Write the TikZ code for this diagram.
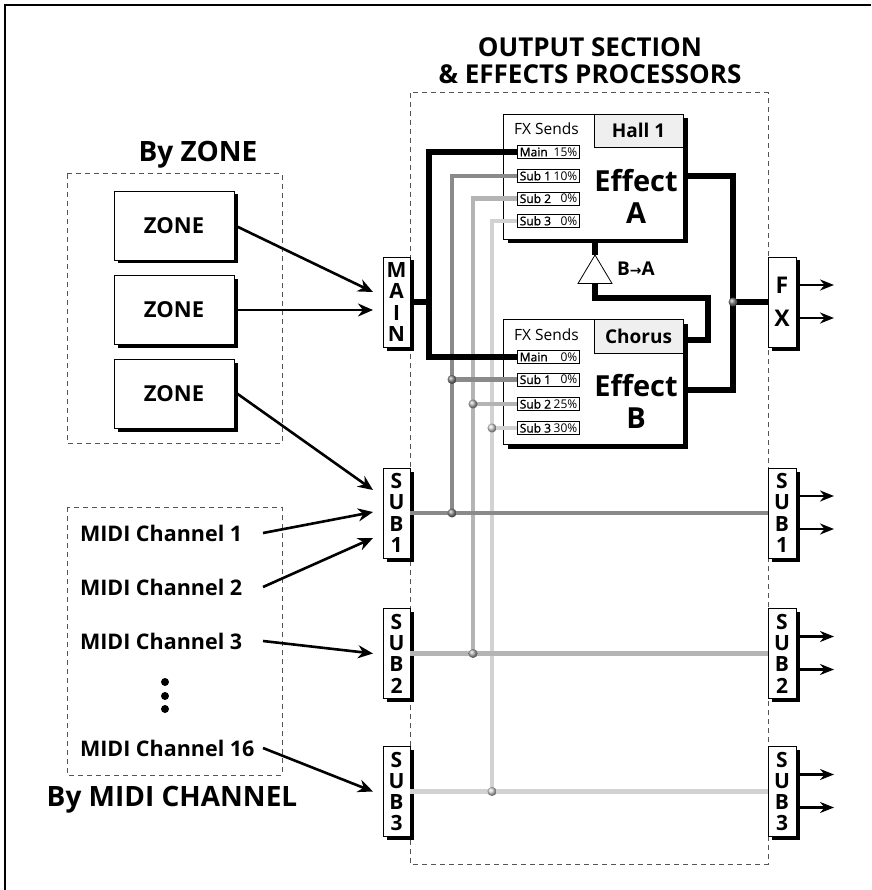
\documentclass[tikz,border=0pt]{standalone}
\usepackage{fontspec}
\setmainfont{Open Sans}
\newfontfamily\symfont{DejaVu Sans}
\newfontfamily\semib[FakeBold=1.3]{Open Sans}
\usetikzlibrary{arrows.meta,shadows,calc}
\definecolor{cA}{HTML}{8A8A8A}
\definecolor{cB}{HTML}{B4B4B4}
\definecolor{cC}{HTML}{D2D2D2}
\definecolor{dashgray}{HTML}{555555}
\definecolor{boxfill}{HTML}{EFEFEF}
\begin{document}
\begin{tikzpicture}[x=1pt,y=-1pt,
  every node/.style={inner sep=0pt,outer sep=0pt},
  shbox/.style={draw=black,line width=0.9pt,fill=white,
    drop shadow={shadow xshift=3.5pt,shadow yshift=-3.5pt,opacity=1,fill=black}},
  busbox/.style={shbox,minimum width=27pt,minimum height=90pt,align=center,
    font=\fontsize{21}{21.3}\selectfont\bfseries},
  fxbox/.style={shbox,minimum width=28pt,minimum height=90pt,align=center,
    font=\fontsize{23}{33}\selectfont\bfseries},
  zonebox/.style={shbox,minimum width=120pt,minimum height=69pt,
    font=\fontsize{22}{24}\selectfont\bfseries},
  effbox/.style={draw=black,line width=0.9pt,fill=white,minimum width=180pt,minimum height=125pt,
    drop shadow={shadow xshift=4.5pt,shadow yshift=-4.5pt,opacity=1,fill=black}},
  namebox/.style={draw=black,line width=0.9pt,fill=boxfill,minimum width=89pt,minimum height=34pt,
    font=\fontsize{19}{20}\selectfont\bfseries},
  sendbox/.style={draw=black,line width=0.8pt,fill=white,minimum width=62pt,minimum height=13pt},
  sendname/.style={font=\fontsize{12}{13}\selectfont\semib,anchor=west},
  sendval/.style={font=\fontsize{12}{13}\selectfont,anchor=east},
  fxsends/.style={font=\fontsize{15.5}{16}\selectfont},
  efftext/.style={font=\fontsize{29}{32}\selectfont\bfseries,align=center},
  dashbox/.style={draw=dashgray,line width=1pt,dash pattern=on 5pt off 4pt},
  arr/.style={line width=2.6pt,-{Stealth[length=15pt,width=13pt]}},
  outarr/.style={line width=2.2pt,-{Stealth[length=14pt,width=11pt]}},
  mainl/.style={line width=6pt,black},
  lA/.style={line width=4.5pt,cA},
  lB/.style={line width=4.5pt,cB},
  lC/.style={line width=4.5pt,cC},
  midi/.style={font=\fontsize{21.5}{24}\selectfont\bfseries,anchor=west},
  bigtitle/.style={font=\fontsize{28}{30}\selectfont\bfseries}
]
\useasboundingbox (0,0) rectangle (871,890);
% frame
\draw[line width=1.2pt] (871,5) -- (5,5) -- (5,890);

% dashed groups
\draw[dashbox] (67,174) rectangle (282,443);
\draw[dashbox] (67,507) rectangle (282,775);
\draw[dashbox] (410,93) rectangle (768,864);

% titles
\node[font=\fontsize{26}{27}\selectfont\bfseries,align=center] (title) at (590,61)
  {OUTPUT SECTION\\\& EFFECTS PROCESSORS};
\node[bigtitle] (byzone) at (198,155) {By ZONE};
\node[bigtitle] (bymidi) at (172,800) {By MIDI CHANNEL};

% zones
\node[zonebox] (z1) at (174,225.5) {ZONE};
\node[zonebox] (z2) at (174,309.5) {ZONE};
\node[zonebox] (z3) at (174,393.5) {ZONE};

% midi channels
\node[midi] (m1) at (80,533) {MIDI Channel 1};
\node[midi] (m2) at (80,587) {MIDI Channel 2};
\node[midi] (m3) at (80,641) {MIDI Channel 3};
\node[midi] (m16) at (80,748) {MIDI Channel 16};
\fill (165,682) circle (4pt) (165,696) circle (4pt) (165,709) circle (4pt);

% effect boxes
\node[effbox] (effA) at (593,176.5) {};
\node[effbox] (effB) at (593,381.5) {};
\node[namebox,minimum height=33pt] (hall) at (638.5,130.5) {Hall 1};
\node[namebox] (chorus) at (638.5,336.5) {Chorus};
\node[fxsends] (fxsA) at (546.5,129) {FX Sends};
\node[fxsends] (fxsB) at (546.5,335) {FX Sends};
\node[efftext] (etA) at (636,196) {Effect\\A};
\node[efftext] (etB) at (636,401.5) {Effect\\B};

% send labels A
\node[sendbox] (aM) at (548.3,152) {};
\node[sendbox] (a1) at (548.3,175.8) {};
\node[sendbox] (a2) at (548.3,198.5) {};
\node[sendbox] (a3) at (548.3,220.8) {};
\node[sendname] (aMn) at ($(aM.west)+(2.5,0)$) {Main};
\node[sendval]  (aMv) at ($(aM.east)+(-2,0)$) {15\%};
\node[sendname] (a1n) at ($(a1.west)+(2.5,0)$) {Sub 1};
\node[sendval]  (a1v) at ($(a1.east)+(-2,0)$) {10\%};
\node[sendname] (a2n) at ($(a2.west)+(2.5,0)$) {Sub 2};
\node[sendval]  (a2v) at ($(a2.east)+(-2,0)$) {0\%};
\node[sendname] (a3n) at ($(a3.west)+(2.5,0)$) {Sub 3};
\node[sendval]  (a3v) at ($(a3.east)+(-2,0)$) {0\%};
% send labels B
\node[sendbox] (bM) at (548.3,357) {};
\node[sendbox] (b1) at (548.3,379.5) {};
\node[sendbox] (b2) at (548.3,404) {};
\node[sendbox] (b3) at (548.3,428) {};
\node[sendname] (bMn) at ($(bM.west)+(2.5,0)$) {Main};
\node[sendval]  (bMv) at ($(bM.east)+(-2,0)$) {0\%};
\node[sendname] (b1n) at ($(b1.west)+(2.5,0)$) {Sub 1};
\node[sendval]  (b1v) at ($(b1.east)+(-2,0)$) {0\%};
\node[sendname] (b2n) at ($(b2.west)+(2.5,0)$) {Sub 2};
\node[sendval]  (b2v) at ($(b2.east)+(-2,0)$) {25\%};
\node[sendname] (b3n) at ($(b3.west)+(2.5,0)$) {Sub 3};
\node[sendval]  (b3v) at ($(b3.east)+(-2,0)$) {30\%};

% bus boxes
\node[busbox] (mainL) at (396.5,302) {M\\A\\I\\N};
\node[busbox] (sub1L) at (396.5,513) {S\\U\\B\\1};
\node[busbox] (sub2L) at (396.5,653.5) {S\\U\\B\\2};
\node[busbox] (sub3L) at (396.5,791.5) {S\\U\\B\\3};
\node[fxbox]  (fxR)   at (782,302) {F\\X};
\node[busbox,minimum width=28pt] (sub1R) at (782,513) {S\\U\\B\\1};
\node[busbox,minimum width=28pt] (sub2R) at (782,653.5) {S\\U\\B\\2};
\node[busbox,minimum width=28pt] (sub3R) at (782,791.5) {S\\U\\B\\3};

% routing coordinates
\coordinate (jm) at (429,302);
\coordinate (x1) at (452,0);
\coordinate (x2) at (473,0);
\coordinate (x3) at (492,0);
\coordinate (jfx) at (733,302);
\coordinate (bout) at (683,390);
\coordinate (tapex) at (595,255);
\coordinate (tbase) at (595,283);
\coordinate (lp1) at (708,297.5);
\coordinate (lp2) at (683,340);

% sub 3 routing
\draw[lC] (a3.west) -| (x3 |- sub3L.east);
\draw[lC] (x3 |- b3.west) -- (b3.west);
\draw[lC] (sub3L.east) -- (sub3R.west);
% sub 2 routing
\draw[lB] (a2.west) -| (x2 |- sub2L.east);
\draw[lB] (x2 |- b2.west) -- (b2.west);
\draw[lB] (sub2L.east) -- (sub2R.west);
% sub 1 routing
\draw[lA] (a1.west) -| (x1 |- sub1L.east);
\draw[lA] (x1 |- b1.west) -- (b1.west);
\draw[lA] (sub1L.east) -- (sub1R.west);
% main routing
\draw[mainl] (mainL.east) -- (jm);
\draw[mainl] (aM.west) -| (jm) |- (bM.west);
% effect outputs
\draw[mainl] (effA.east) -| (jfx) |- (bout);
\draw[mainl] (jfx) -- (fxR.west);
% B -> A loop
\draw[mainl] (tapex |- effA.south) -- (tapex);
\draw[mainl] (tbase) |- (lp1) |- (lp2);
\draw[line width=0.8pt,fill=white] (tapex) -- (612,283.5) -- (578,283.5) -- cycle;
\node[font=\fontsize{19}{20}\selectfont\bfseries,anchor=west] (ba) at (617,269)
  {B{\symfont\fontsize{14}{14}\selectfont\bfseries →}A};

% junction dots
\shade[ball color=cA] (x1 |- b1.west) circle (4.5pt);
\shade[ball color=cA] (x1 |- sub1L.east) circle (4.5pt);
\shade[ball color=cB] (x2 |- b2.west) circle (4.5pt);
\shade[ball color=cB] (x2 |- sub2L.east) circle (4.5pt);
\shade[ball color=cC] (x3 |- b3.west) circle (4.5pt);
\shade[ball color=cC] (x3 |- sub3L.east) circle (4.5pt);
\shade[ball color=gray] (jfx) circle (4.5pt);

% input arrows
\draw[arr] ($(z1.east)+(3,1)$) -- ($(mainL.west)+(-10,-10)$);
\draw[arr] ($(z2.east)+(3,0.5)$) -- ($(mainL.west)+(-10,8)$);
\draw[arr] ($(z3.east)+(3,0)$) -- ($(sub1L.west)+(-10,-23)$);
\draw[arr] ($(m1.west)+(183,0)$) -- ($(sub1L.west)+(-10,-1)$);
\draw[arr] ($(m2.west)+(183,0)$) -- ($(sub1L.west)+(-10,25)$);
\draw[arr] ($(m3.west)+(183,0)$) -- ($(sub2L.west)+(-10,0)$);
\draw[arr] ($(m16.west)+(183,0)$) -- ($(sub3L.west)+(-10,0)$);

% output arrows
\foreach \b in {fxR,sub1R,sub2R,sub3R}{
  \draw[outarr] ($(\b.east)+(1,-17)$) -- ($(\b.east)+(38,-17)$);
  \draw[outarr] ($(\b.east)+(1,16)$) -- ($(\b.east)+(38,16)$);
}
\end{tikzpicture}
\end{document}
